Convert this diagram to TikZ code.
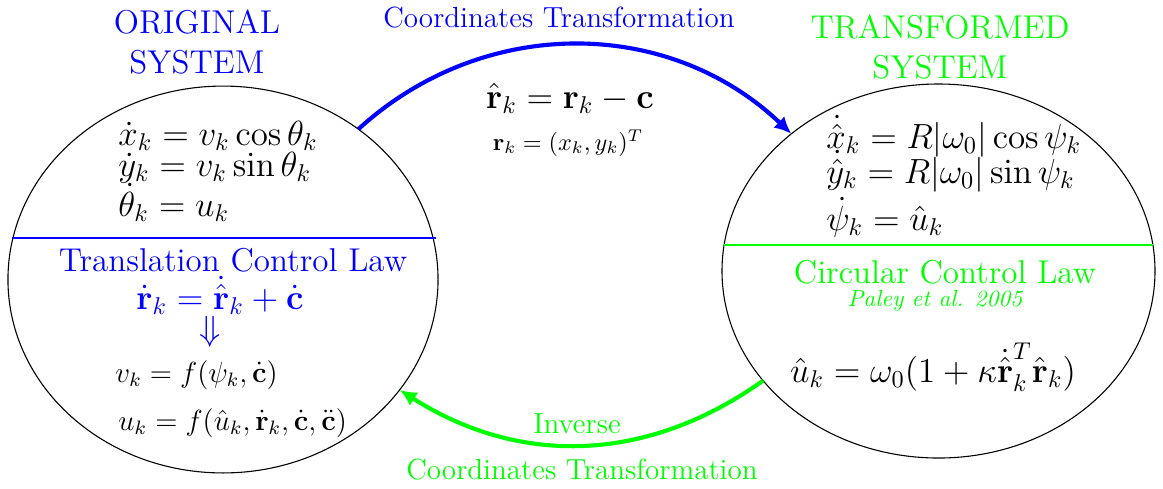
\documentclass[tikz,border=0pt]{standalone}
\usepackage{amsmath,amssymb}
\usetikzlibrary{arrows.meta,shapes.geometric,calc}
\definecolor{myblue}{RGB}{0,0,255}
\definecolor{mygreen}{RGB}{0,255,0}
\newcommand{\titlesize}{\fontsize{13.6}{16.4}\selectfont}
\begin{document}
\begin{tikzpicture}[x=0.412pt,y=-0.412pt,
  sys/.style={draw=black,ellipse,line width=0.45pt,inner sep=0pt,outer sep=0pt},
  eqn/.style={anchor=base west,inner sep=0pt,font=\Large},
  eqsmall/.style={anchor=base west,inner sep=0pt,font=\large},
  lbl/.style={anchor=base,inner sep=0pt,align=center},
  divider/.style={line width=1pt},
  trans/.style={line width=1.7pt,-{Latex[length=7pt,width=6.5pt]}}
]
\useasboundingbox (0,0) rectangle (1163,488);

% systems
\node[sys,minimum width=177.2pt,minimum height=159.4pt] (L) at (223,279.5) {};
\node[sys,minimum width=178.4pt,minimum height=154.1pt] (R) at (938.5,271) {};

% titles
\node[lbl,font=\titlesize,text=myblue,anchor=center] (Ltitle) at (197,42) {ORIGINAL\\SYSTEM};
\node[lbl,font=\titlesize,text=mygreen,anchor=center] (Rtitle) at (940,47) {TRANSFORMED\\SYSTEM};

% dividers
\draw[divider,myblue] ($(L.center)+(-211,-41.5)$) -- ($(L.center)+(213,-41.5)$);
\draw[divider,mygreen] ($(R.center)+(-215,-26)$) -- ($(R.center)+(214,-26)$);

% left equations
\node[eqn] (l1) at (118,145) {$\dot{x}_k = v_k\cos\theta_k$};
\node[eqn] (l2) at (118,176) {$\dot{y}_k = v_k\sin\theta_k$};
\node[eqn] (l3) at (118,216) {$\dot{\theta}_k = u_k$};
\node[lbl,font=\titlesize,text=myblue] (tcl) at (233,271) {Translation Control Law};
\node[lbl,font=\Large,text=myblue] (teq) at (220,309) {$\dot{\mathbf{r}}_k = \dot{\hat{\mathbf{r}}}_k + \dot{\mathbf{c}}$};
\node[inner sep=0pt,font=\Large,text=myblue] (impl) at (210,332) {$\Downarrow$};
\node[eqsmall] (l4) at (115,382) {$v_k = f(\psi_k,\dot{\mathbf{c}})$};
\node[eqsmall] (l5) at (118,430) {$u_k = f(\hat{u}_k,\dot{\mathbf{r}}_k,\dot{\mathbf{c}},\ddot{\mathbf{c}})$};

% right equations
\node[eqn] (r1) at (826,148) {$\dot{\hat{x}}_k = R|\omega_0|\cos\psi_k$};
\node[eqn] (r2) at (826,183) {$\dot{\hat{y}}_k = R|\omega_0|\sin\psi_k$};
\node[eqn] (r3) at (826,230) {$\dot{\psi}_k = \hat{u}_k$};
\node[lbl,font=\titlesize,text=mygreen] (ccl) at (945,283) {Circular Control Law};
\node[lbl,font=\fontsize{9.6}{11}\selectfont\itshape,text=mygreen] (paley) at (935,306) {Paley et al. 2005};
\node[lbl,font=\Large] (ueq) at (933,382) {$\hat{u}_k = \omega_0(1+\kappa\dot{\hat{\mathbf{r}}}_k^{\raisebox{4pt}{$\scriptstyle T$}}\hat{\mathbf{r}}_k)$};

% middle equations
\node[lbl,font=\Large] (meq) at (570,108) {$\hat{\mathbf{r}}_k = \mathbf{r}_k - \mathbf{c}$};
\node[lbl,font=\normalsize] (meq2) at (568,150) {$\mathbf{r}_k = (x_k,y_k)^T$};

% transformations
\draw[trans,myblue] (L.48.7) to[bend left=43] (R.137.5);
\node[lbl,font=\large,text=myblue] (ctlab) at (559,27) {Coordinates Transformation};
\draw[trans,mygreen] (R.212.9) to[bend left=34] (L.-32.4);
\node[lbl,font=\large,text=mygreen] (invlab) at (577,433) {Inverse};
\node[lbl,font=\large,text=mygreen] (ictlab) at (582,479) {Coordinates Transformation};
\end{tikzpicture}
\end{document}
